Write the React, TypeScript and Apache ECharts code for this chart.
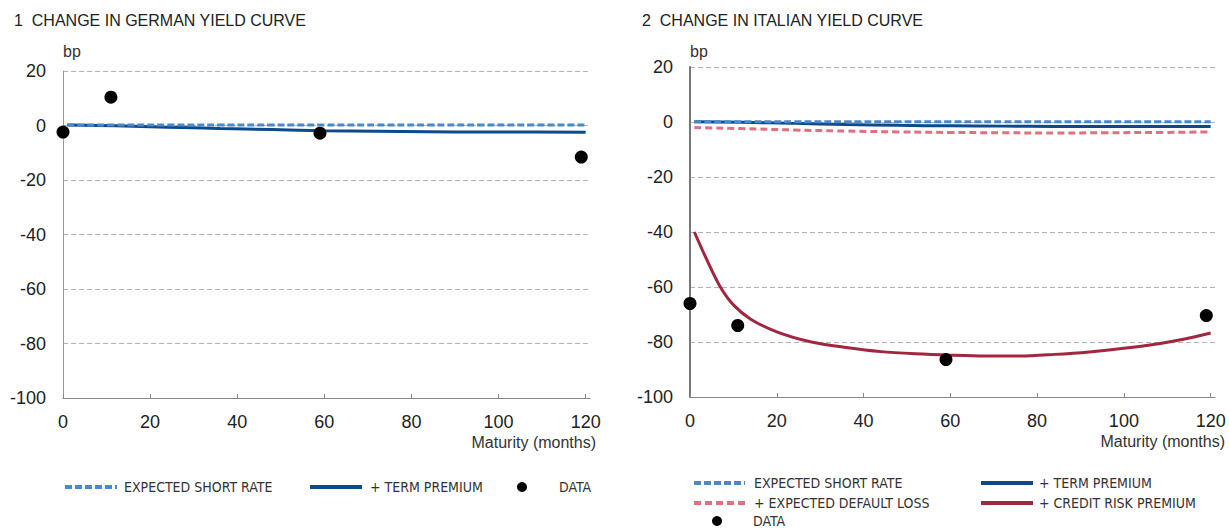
import React, { useEffect, useRef } from "react";
import * as echarts from "echarts";

// ---- Data ----
const xTicks = [0, 20, 40, 60, 80, 100, 120];
const yTicks = [-100, -80, -60, -40, -20, 0, 20];

// Germany
const deMaturities = [1, 12, 24, 36, 48, 60, 72, 84, 96, 108, 120];
const deExpectedShortRate = [0.2, 0.2, 0.2, 0.2, 0.2, 0.2, 0.2, 0.2, 0.2, 0.2, 0.2];
const deTermPremium = [0.2, -0.1, -0.6, -1.1, -1.5, -1.9, -2.1, -2.3, -2.4, -2.4, -2.5];
const deDataMaturities = [0, 11, 59, 119];
const deDataValues = [-2.4, 10.4, -2.8, -11.6];

// Italy
const itMaturities = [1, 12, 24, 36, 48, 60, 72, 84, 96, 108, 120];
const itExpectedShortRate = [0.1, 0.1, 0.1, 0.1, 0.1, 0.1, 0.1, 0.1, 0.1, 0.1, 0.1];
const itExpectedDefaultLoss = [-2.0, -2.4, -2.9, -3.3, -3.6, -3.8, -3.9, -4.0, -3.9, -3.8, -3.6];
const itTermPremium = [0.1, -0.1, -0.5, -0.9, -1.2, -1.4, -1.5, -1.6, -1.6, -1.6, -1.6];
const itCreditMaturities = [1, 4, 7, 10, 14, 20, 28, 36, 44, 52, 60, 68, 76, 84, 92, 100, 108, 114, 120];
const itCreditRiskPremium = [-40, -50.5, -60, -66.5, -71.7, -76.3, -80, -82, -83.5, -84.3, -84.8, -85.1, -85.1, -84.5, -83.6, -82.3, -80.6, -78.9, -76.7];
const itDataMaturities = [0, 11, 59, 119];
const itDataValues = [-66, -74, -86.4, -70.4];

const NAME_ESR = "EXPECTED SHORT RATE";
const NAME_TP = "+ TERM PREMIUM";
const NAME_EDL = "+ EXPECTED DEFAULT LOSS";
const NAME_CRP = "+ CREDIT RISK PREMIUM";
const NAME_DATA = "DATA";

const C_ESR = "#4a88cc";
const C_TP = "#0c4a8a";
const C_EDL = "#e0707f";
const C_CRP = "#a3263f";

const FONT = "'Liberation Sans', Arial, Helvetica, sans-serif";
const NARROW = "'Liberation Sans Narrow', 'DejaVu Sans Condensed', 'Liberation Sans', sans-serif";

const zip = (xs: number[], ys: number[]) => xs.map((x, i) => [x, ys[i]]);

function makeXAxis(gridIndex: number, nameGap: number) {
  return {
    type: "value",
    gridIndex,
    min: 0,
    max: 121,
    interval: 20,
    name: "Maturity (months)",
    nameLocation: "end",
    nameGap,
    nameTextStyle: {
      align: "right",
      verticalAlign: "top",
      padding: [36, 0, 0, 0],
      fontSize: 16,
      color: "#333",
      fontFamily: FONT,
    },
    axisLine: { onZero: false, lineStyle: { color: "#888", width: 1 } },
    axisTick: {
      show: true,
      inside: true,
      length: 4,
      customValues: xTicks,
      lineStyle: { color: "#888" },
    },
    axisLabel: {
      customValues: xTicks,
      fontSize: 18,
      color: "#222",
      margin: 15,
      fontFamily: FONT,
    },
    splitLine: { show: false },
  };
}

function makeYAxis(gridIndex: number, lineWidth: number, lineColor: string, nameGap: number) {
  return {
    type: "value",
    gridIndex,
    min: -100,
    max: 20,
    interval: 20,
    name: "bp",
    nameLocation: "end",
    nameGap,
    nameTextStyle: {
      align: "left",
      verticalAlign: "middle",
      fontSize: 16,
      color: "#333",
      fontFamily: FONT,
    },
    axisLine: { show: true, onZero: false, lineStyle: { color: lineColor, width: lineWidth } },
    axisTick: { show: false },
    axisLabel: {
      customValues: yTicks,
      fontSize: 18,
      color: "#222",
      margin: 17,
      fontFamily: FONT,
    },
    splitLine: {
      show: true,
      lineStyle: { type: [5, 3], color: "#b5b5b5", width: 1 },
    },
  };
}

function makeLegend(name: string, left: number, cy: number, itemWidth: number, pad: number, isDot = false) {
  return {
    data: [name],
    left,
    top: cy - 8,
    orient: "horizontal",
    padding: 0,
    itemGap: 0,
    itemWidth,
    itemHeight: isDot ? 10 : 14,
    icon: isDot ? "circle" : undefined,
    selectedMode: false,
    lineStyle: { width: 4 },
    itemStyle: isDot ? { opacity: 1 } : { opacity: 0, borderWidth: 0 },
    textStyle: {
      fontFamily: NARROW,
      fontSize: 14,
      lineHeight: 16,
      color: "#333",
      padding: [0, 0, 0, pad],
    },
  };
}

export default function App() {
  const ref = useRef<HTMLDivElement>(null);

  useEffect(() => {
    if (!ref.current) return;
    const chart = echarts.init(ref.current, null, { renderer: "svg" });

    const option: any = {
      animation: false,
      backgroundColor: "#ffffff",
      textStyle: { fontFamily: FONT },
      title: [
        {
          text: "1  CHANGE IN GERMAN YIELD CURVE",
          left: 14,
          top: 11,
          padding: 0,
          textStyle: { fontSize: 16, fontWeight: "normal", color: "#222", fontFamily: FONT, lineHeight: 18 },
        },
        {
          text: "2  CHANGE IN ITALIAN YIELD CURVE",
          left: 642,
          top: 11,
          padding: 0,
          textStyle: { fontSize: 16, fontWeight: "normal", color: "#222", fontFamily: FONT, lineHeight: 18 },
        },
      ],
      grid: [
        { left: 63, top: 71, width: 527, height: 327, containLabel: false },
        { left: 690, top: 67, width: 525, height: 330, containLabel: false },
      ],
      xAxis: [makeXAxis(0, 6), makeXAxis(1, 10)],
      yAxis: [makeYAxis(0, 1, "#999", 20), makeYAxis(1, 2, "#777", 16)],
      legend: [
        makeLegend(NAME_ESR, 63, 487, 52, 2),
        makeLegend(NAME_TP, 308, 487, 52, 3),
        makeLegend(NAME_DATA, 517, 487, 10, 27, true),
        makeLegend(NAME_ESR, 692, 483, 51, 4),
        makeLegend(NAME_TP, 979, 483, 52, 1),
        makeLegend(NAME_EDL, 692, 503, 51, 4),
        makeLegend(NAME_CRP, 979, 503, 52, 1),
        makeLegend(NAME_DATA, 712, 521, 10, 26, true),
      ],
      series: [
        {
          name: NAME_ESR,
          type: "line",
          xAxisIndex: 0,
          yAxisIndex: 0,
          data: zip(deMaturities, deExpectedShortRate),
          symbol: "none",
          smooth: true,
          lineStyle: { color: C_ESR, width: 3, type: [7, 3] },
          itemStyle: { color: C_ESR },
          z: 3,
        },
        {
          name: NAME_TP,
          type: "line",
          xAxisIndex: 0,
          yAxisIndex: 0,
          data: zip(deMaturities, deTermPremium),
          symbol: "none",
          smooth: true,
          lineStyle: { color: C_TP, width: 3 },
          itemStyle: { color: C_TP },
          z: 2,
        },
        {
          name: NAME_DATA,
          type: "scatter",
          xAxisIndex: 0,
          yAxisIndex: 0,
          data: zip(deDataMaturities, deDataValues),
          symbol: "circle",
          symbolSize: 13,
          itemStyle: { color: "#000000", opacity: 1 },
          z: 5,
        },
        {
          name: NAME_ESR,
          type: "line",
          xAxisIndex: 1,
          yAxisIndex: 1,
          data: zip(itMaturities, itExpectedShortRate),
          symbol: "none",
          smooth: true,
          lineStyle: { color: C_ESR, width: 3, type: [7, 3] },
          itemStyle: { color: C_ESR },
          z: 3,
        },
        {
          name: NAME_EDL,
          type: "line",
          xAxisIndex: 1,
          yAxisIndex: 1,
          data: zip(itMaturities, itExpectedDefaultLoss),
          symbol: "none",
          smooth: true,
          lineStyle: { color: C_EDL, width: 3, type: [7, 4] },
          itemStyle: { color: C_EDL },
          z: 3,
        },
        {
          name: NAME_TP,
          type: "line",
          xAxisIndex: 1,
          yAxisIndex: 1,
          data: zip(itMaturities, itTermPremium),
          symbol: "none",
          smooth: true,
          lineStyle: { color: C_TP, width: 3 },
          itemStyle: { color: C_TP },
          z: 2,
        },
        {
          name: NAME_CRP,
          type: "line",
          xAxisIndex: 1,
          yAxisIndex: 1,
          data: zip(itCreditMaturities, itCreditRiskPremium),
          symbol: "none",
          smooth: 0.3,
          lineStyle: { color: C_CRP, width: 3 },
          itemStyle: { color: C_CRP },
          z: 3,
        },
        {
          name: NAME_DATA,
          type: "scatter",
          xAxisIndex: 1,
          yAxisIndex: 1,
          data: zip(itDataMaturities, itDataValues),
          symbol: "circle",
          symbolSize: 13,
          itemStyle: { color: "#000000", opacity: 1 },
          z: 5,
        },
      ],
    };

    chart.setOption(option);
    return () => {
      chart.dispose();
    };
  }, []);

  return (
    <div
      ref={ref}
      style={{ position: "absolute", left: 0, top: 0, width: 1229, height: 529, background: "#fff" }}
    />
  );
}
